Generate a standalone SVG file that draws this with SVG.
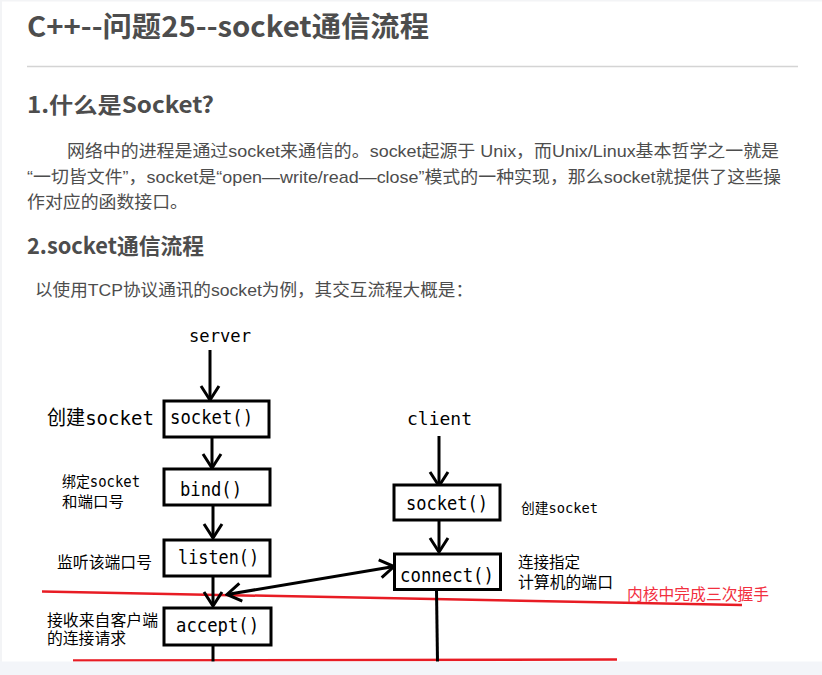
<svg xmlns="http://www.w3.org/2000/svg" width="822" height="675" viewBox="0 0 822 675">
<style>
.h{font-family:"Noto Sans CJK SC","Liberation Sans",sans-serif;font-weight:bold;fill:#4d4d4d}
.p{font-family:"Liberation Sans","Noto Sans CJK SC",sans-serif;font-size:17px;fill:#4d4d4d}
.m{font-family:"DejaVu Sans Mono","Noto Sans CJK SC",monospace;fill:#000}
.box{fill:#fff;stroke:#000;stroke-width:3}
.c{stroke:#000;stroke-width:3;fill:none}
.red{stroke:#e81c24;stroke-width:2.5;fill:none}
</style>
<defs>
<marker id="ah" viewBox="-17 -11 19 22" refX="0" refY="0" markerWidth="19" markerHeight="22" markerUnits="userSpaceOnUse" orient="auto-start-reverse">
<path d="M-14,-9 L0,0 L-14,9" fill="none" stroke="#000" stroke-width="3"/>
</marker>
</defs>
<rect x="0" y="0" width="822" height="675" fill="#fff"/>
<rect x="0" y="0" width="822" height="1.5" fill="#f3f4f6"/>
<rect x="0" y="0" width="2" height="675" fill="#f3f4f6"/>

<g id="header">
<text class="h" x="27" y="37" font-size="28" textLength="402" lengthAdjust="spacingAndGlyphs">C++--问题25--socket通信流程</text>
<line x1="27" y1="66.5" x2="798" y2="66.5" stroke="#d4d4d4" stroke-width="1.5"/>
<text class="h" x="27" y="113" font-size="22" textLength="187" lengthAdjust="spacingAndGlyphs">1.什么是Socket?</text>
<text class="p" x="67" y="157" textLength="712" lengthAdjust="spacingAndGlyphs">网络中的进程是通过socket来通信的。socket起源于 Unix，而Unix/Linux基本哲学之一就是</text>
<text class="p" x="27" y="183" textLength="754" lengthAdjust="spacingAndGlyphs">“一切皆文件”，socket是“open—write/read—close”模式的一种实现，那么socket就提供了这些操</text>
<text class="p" x="27" y="208" textLength="161" lengthAdjust="spacingAndGlyphs">作对应的函数接口。</text>
<text class="h" x="27" y="254" font-size="22" textLength="177" lengthAdjust="spacingAndGlyphs">2.socket通信流程</text>
<text class="p" x="35" y="296" textLength="438" lengthAdjust="spacingAndGlyphs">以使用TCP协议通讯的socket为例，其交互流程大概是：</text>
</g>

<g id="red-lines">
<line class="red" x1="42" y1="591.5" x2="742" y2="605"/>
<line class="red" x1="73" y1="660.5" x2="617" y2="659.5"/>
</g>

<g id="connectors">
<line class="c" x1="210" y1="350" x2="210" y2="400" marker-end="url(#ah)"/>
<line class="c" x1="212" y1="438" x2="212" y2="468" marker-end="url(#ah)"/>
<line class="c" x1="213" y1="505" x2="213" y2="538" marker-end="url(#ah)"/>
<line class="c" x1="213" y1="577" x2="213" y2="606" marker-end="url(#ah)"/>
<line class="c" x1="213" y1="645" x2="213" y2="662"/>
<line class="c" x1="439" y1="436" x2="439" y2="486" marker-end="url(#ah)"/>
<line class="c" x1="439" y1="521" x2="439" y2="552" marker-end="url(#ah)"/>
<line class="c" x1="436.5" y1="590" x2="437.5" y2="662"/>
<line class="c" x1="227" y1="594.5" x2="394" y2="566.5" marker-start="url(#ah)" marker-end="url(#ah)"/>
</g>

<g id="server">
<text class="m" x="189" y="342" font-size="18" textLength="62" lengthAdjust="spacingAndGlyphs">server</text>
</g>
<g id="server-socket">
<rect class="box" x="164" y="401" width="105" height="36"/>
<text class="m" x="170" y="424" font-size="20" textLength="83" lengthAdjust="spacingAndGlyphs">socket()</text>
<text class="m" x="47" y="425" font-size="20" textLength="107" lengthAdjust="spacingAndGlyphs">创建socket</text>
</g>
<g id="bind">
<rect class="box" x="164" y="469" width="106" height="36"/>
<text class="m" x="180" y="496" font-size="20" textLength="62" lengthAdjust="spacingAndGlyphs">bind()</text>
<text class="m" x="62" y="487" font-size="15" textLength="78" lengthAdjust="spacingAndGlyphs">绑定socket</text>
<text class="m" x="62" y="507" font-size="15" textLength="62" lengthAdjust="spacingAndGlyphs">和端口号</text>
</g>
<g id="listen">
<rect class="box" x="164" y="540" width="106" height="36"/>
<text class="m" x="178" y="564" font-size="20" textLength="81" lengthAdjust="spacingAndGlyphs">listen()</text>
<text class="m" x="57" y="568" font-size="15.5" textLength="95" lengthAdjust="spacingAndGlyphs">监听该端口号</text>
</g>
<g id="accept">
<rect class="box" x="164" y="608" width="107" height="37"/>
<text class="m" x="176" y="632" font-size="20" textLength="83" lengthAdjust="spacingAndGlyphs">accept()</text>
<text class="m" x="47" y="626" font-size="15.5" textLength="111" lengthAdjust="spacingAndGlyphs">接收来自客户端</text>
<text class="m" x="47" y="644" font-size="15.5" textLength="79" lengthAdjust="spacingAndGlyphs">的连接请求</text>
</g>

<g id="client">
<text class="m" x="407" y="425" font-size="18" textLength="65" lengthAdjust="spacingAndGlyphs">client</text>
</g>
<g id="client-socket">
<rect class="box" x="394" y="485" width="106" height="35"/>
<text class="m" x="406" y="510" font-size="20" textLength="82" lengthAdjust="spacingAndGlyphs">socket()</text>
<text class="m" x="521" y="513" font-size="14" textLength="77" lengthAdjust="spacingAndGlyphs">创建socket</text>
</g>
<g id="connect">
<rect class="box" x="394.5" y="554" width="106" height="35.5"/>
<text class="m" x="400" y="582" font-size="20" textLength="94" lengthAdjust="spacingAndGlyphs">connect()</text>
<text class="m" x="518" y="568" font-size="15.5" textLength="62" lengthAdjust="spacingAndGlyphs">连接指定</text>
<text class="m" x="518" y="588" font-size="15.5" textLength="95" lengthAdjust="spacingAndGlyphs">计算机的端口</text>
</g>
<g id="handshake-note">
<text x="627" y="600" font-family="Noto Sans CJK SC,sans-serif" font-size="15.5" fill="#f2303f" textLength="142" lengthAdjust="spacingAndGlyphs">内核中完成三次握手</text>
</g>

<rect x="0" y="661.5" width="822" height="13.5" fill="#f3f5f9"/>
</svg>
